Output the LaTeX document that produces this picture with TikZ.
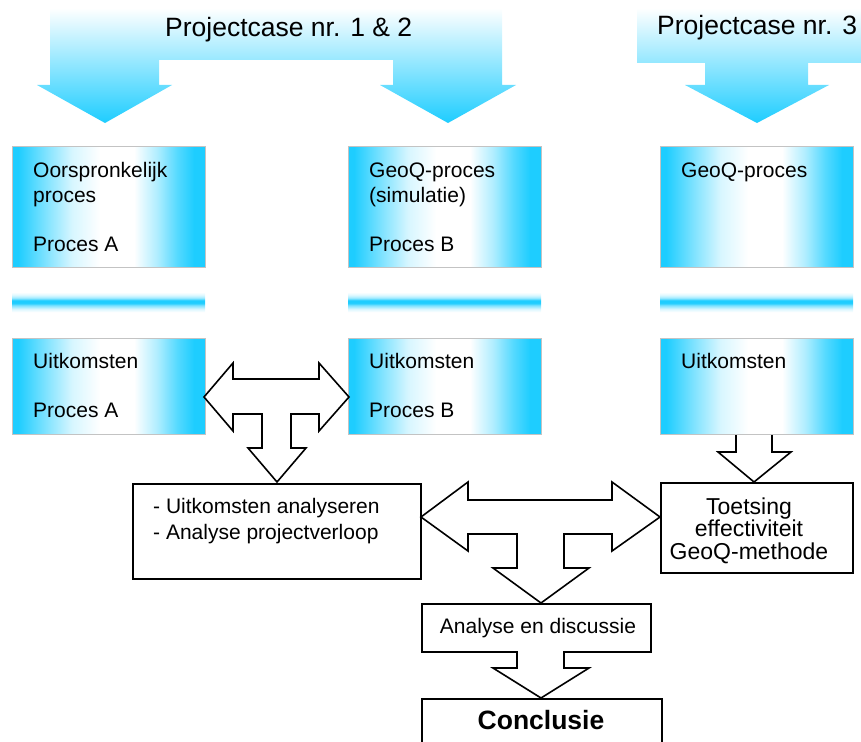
\documentclass[tikz,border=0pt]{standalone}
\usepackage{fontspec}
\setmainfont{Liberation Sans}
\definecolor{cy}{RGB}{30,205,255}
\definecolor{bordergray}{RGB}{195,195,195}
\pgfdeclareverticalshading{barsh}{193pt}{color(0pt)=(white); color(3pt)=(cy!15); color(7pt)=(cy!60); color(9pt)=(cy); color(12pt)=(cy); color(14pt)=(cy!45); color(17pt)=(cy!15); color(20pt)=(white)}
% horizontal gradient of a 193 wide box made of thin strips: x0, ytop, ybottom
\newcommand\gradstrips[3]{%
  \foreach \i in {0,...,192}{%
    \pgfmathsetmacro\gm{\i<6 ? 100 : (\i<35 ? 100-45*(\i-6)/29 : (\i<60 ? 55-37*(\i-35)/25 : (\i<88 ? 18-18*(\i-60)/28 : (\i<122 ? 0 : (\i<145 ? 35*(\i-122)/23 : (\i<165 ? 35+40*(\i-145)/20 : (\i<182 ? 75+25*(\i-165)/17 : 100)))))))}%
    \fill[cy!\gm] ({#1+\i},#2) rectangle ({#1+\i+1.6},#3);
  }}
\tikzset{
  pbox/.style={draw=bordergray, line width=1.4pt, anchor=north west, inner sep=0pt, minimum width=193pt},
  sepbar/.style={anchor=north west, inner sep=0pt},
  wbox/.style={draw=black, line width=1.6pt, fill=white, anchor=north west, inner sep=0pt},
  blk/.style={draw=black, line width=1.6pt, fill=white, line join=miter},
  txt/.style={font=\fontsize{21}{25}\selectfont, inner sep=0pt, anchor=base west},
  ttl/.style={font=\fontsize{26.5}{30}\selectfont, inner sep=0pt, anchor=base west},
  topshade/.style={top color=white, bottom color=cy}
}
\begin{document}
\begin{tikzpicture}[x=1pt, y=-1pt]
\useasboundingbox (0,0) rectangle (861,741);
% top arrows
\shade[topshade] (50,8) -- (502,8) -- (502,85) -- (516,85) -- (448,123) -- (380,85) -- (393,85) -- (393,60) -- (159,60) -- (159,85) -- (172,85) -- (105,123) -- (37,85) -- (50,85) -- cycle;
\shade[topshade] (637,8) -- (861,8) -- (861,63) -- (808,63) -- (808,85) -- (829,85) -- (757,123) -- (685,85) -- (705,85) -- (705,63) -- (637,63) -- cycle;
\node[ttl] (t12) at (165,37) {Projectcase nr. 1 \& 2};
\node[ttl] (t3) at (657,35) {Projectcase nr. 3};
% process boxes
\gradstrips{12}{146}{267}
\gradstrips{348}{146}{267}
\gradstrips{660}{146}{267}
\node[pbox, minimum height=121pt] (pa) at (12,146) {};
\node[pbox, minimum height=121pt] (pb) at (348,146) {};
\node[pbox, minimum height=121pt] (pc) at (660,146) {};
\node[txt] (tpa) at (33,177) {\begin{tabular}[t]{@{}l@{}}Oorspronkelijk\\proces\\[24pt]Proces A\end{tabular}};
\node[txt] (tpb) at (369,177) {\begin{tabular}[t]{@{}l@{}}GeoQ-proces\\(simulatie)\\[24pt]Proces B\end{tabular}};
\node[txt] (tpc) at (681,177) {GeoQ-proces};
% separator bars
\node[sepbar] (sa) at (12,292) {\pgfuseshading{barsh}};
\node[sepbar] (sb) at (348,292) {\pgfuseshading{barsh}};
\node[sepbar] (sc) at (660,292) {\pgfuseshading{barsh}};
% result boxes
\gradstrips{12}{338}{434}
\gradstrips{348}{338}{434}
\gradstrips{660}{338}{434}
\node[pbox, minimum height=96pt] (ua) at (12,338) {};
\node[pbox, minimum height=96pt] (ub) at (348,338) {};
\node[pbox, minimum height=96pt] (uc) at (660,338) {};
\node[txt] (tua) at (33,368) {\begin{tabular}[t]{@{}l@{}}Uitkomsten\\[24pt]Proces A\end{tabular}};
\node[txt] (tub) at (369,368) {\begin{tabular}[t]{@{}l@{}}Uitkomsten\\[24pt]Proces B\end{tabular}};
\node[txt] (tuc) at (681,368) {Uitkomsten};
% lower boxes
\node[wbox, minimum width=288pt, minimum height=95pt] (an) at (132,483) {};
\node[txt] (tan) at (153,513) {\fontsize{21}{26}\selectfont\begin{tabular}[t]{@{}l@{}}- Uitkomsten analyseren\\- Analyse projectverloop\end{tabular}};
\node[wbox, minimum width=192pt, minimum height=90pt] (tg) at (660,482) {};
\node[txt, anchor=base] (ttg) at (749,514) {\fontsize{23}{21}\selectfont\begin{tabular}[t]{@{}c@{}}Toetsing\\effectiviteit\\GeoQ-methode\end{tabular}};
\node[wbox, minimum width=229pt, minimum height=48pt] (ad) at (421,603) {};
\node[txt, anchor=base] (tad) at (538,633) {Analyse en discussie};
\node[wbox, minimum width=240pt, minimum height=70pt] (cc) at (421,698) {};
\node[txt, anchor=base, font=\fontsize{26.5}{30}\selectfont\bfseries] (tcc) at (541,729) {Conclusie};
% block arrows
\draw[blk] (204,397) -- (233,363) -- (233,379) -- (319,379) -- (319,363) -- (349,397) -- (319,431) -- (319,414) -- (291,414) -- (291,448) -- (306,448) -- (277,482) -- (248,448) -- (262,448) -- (262,414) -- (233,414) -- (233,431) -- cycle;
\draw[blk] (421,517) -- (468,482) -- (468,500) -- (612,500) -- (612,482) -- (660,517) -- (612,551) -- (612,534) -- (564,534) -- (564,568) -- (589,568) -- (541,603) -- (493,568) -- (517,568) -- (517,534) -- (468,534) -- (468,551) -- cycle;
\draw[blk] (736,435) -- (736,452) -- (718,452) -- (754,482) -- (791,452) -- (772,452) -- (772,435);
\draw[blk] (517,651) -- (517,668) -- (493,668) -- (541,698) -- (589,668) -- (564,668) -- (564,651);
\end{tikzpicture}
\end{document}
